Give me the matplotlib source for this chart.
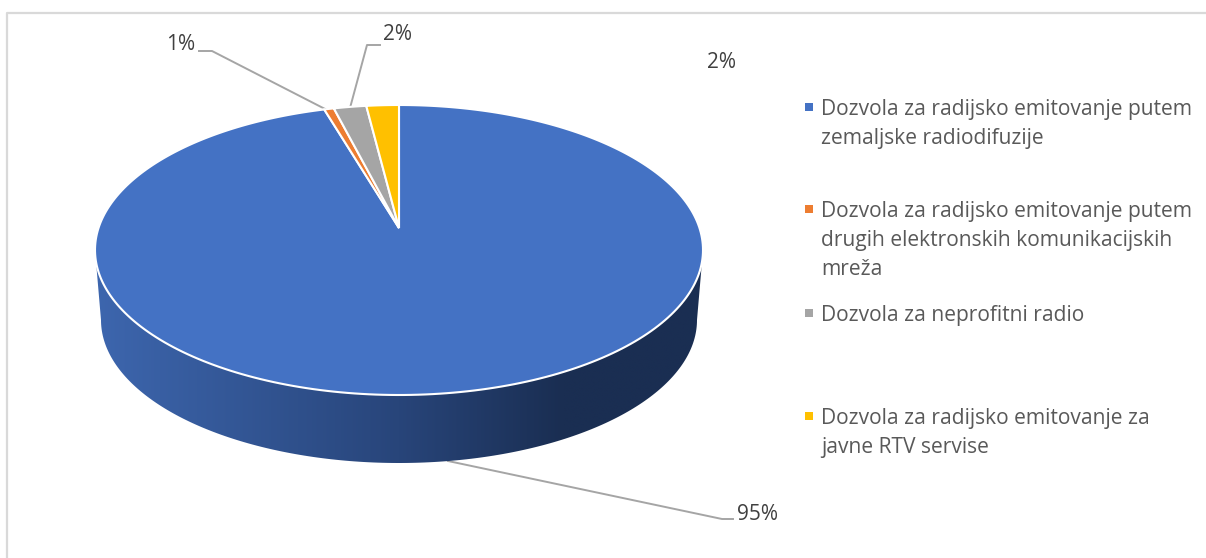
import numpy as np
import matplotlib
matplotlib.use('Agg')
import matplotlib.pyplot as plt
from matplotlib.colors import LinearSegmentedColormap
from matplotlib.patches import Polygon, Rectangle

plt.rcParams['font.family'] = ['Open Sans', 'DejaVu Sans']

categories = [
    'Dozvola za radijsko emitovanje putem\nzemaljske radiodifuzije',
    'Dozvola za radijsko emitovanje putem\ndrugih elektronskih komunikacijskih\nmreža',
    'Dozvola za neprofitni radio',
    'Dozvola za radijsko emitovanje za\njavne RTV servise',
]
values = [95.4, 0.6, 2.0, 2.0]
colors = ['#4472C4', '#ED7D31', '#A5A5A5', '#FFC000']

TEXT = '#595959'
LINE = '#A5A5A5'

# pie geometry in pixels (drawn in perspective like the excel 3d pie)
CX, CY = 399, 250
RX, RY = 304, 145
APEX = 22
DEPTH_CY, DEPTH_RX, DEPTH_RY = 320, 298, 143


def project(theta):
    """angle clockwise from 12 o'clock -> pixel on the top face"""
    k = APEX / RY
    u, v = np.sin(theta), np.cos(theta)
    d = 1 + k * v
    c = RX * np.sqrt(1 - k ** 2)
    return CX + c * u / d, CY - (RY * v + APEX) / d


fig = plt.figure(figsize=(12.06, 5.58), dpi=100)
ax = fig.add_axes([0, 0, 1, 1])
ax.set_xlim(0, 1206)
ax.set_ylim(558, 0)
ax.axis('off')

# chart frame
ax.plot([1206, 6.5, 6.5], [12.5, 12.5, 558], color='#D9D9D9', lw=1.6, zorder=1)

# side wall with the left to right shading
t = np.linspace(0, np.pi, 200)
wall_x = np.r_[CX + DEPTH_RX * np.cos(t), CX - RX * np.cos(t)]
wall_y = np.r_[DEPTH_CY + DEPTH_RY * np.sin(t), CY + RY * np.sin(t)]
wall = Polygon(np.c_[wall_x, wall_y], closed=True, fc='none', ec='none', transform=ax.transData)
ax.add_patch(wall)
cmap = LinearSegmentedColormap.from_list('wall', [(0, '#3D66AE'), (0.5, '#28457A'), (0.77, '#1A2E52'), (1, '#1A2E52')])
im = ax.imshow(np.linspace(0, 1, 256)[None, :], extent=[CX - RX, CX + RX, 470, 240], cmap=cmap,
               aspect='auto', zorder=2, interpolation='bilinear')
im.set_clip_path(wall)
ax.set_xlim(0, 1206)
ax.set_ylim(558, 0)

# top face, one wedge per value, clockwise from the top
edges = np.r_[0, np.cumsum(values)] / sum(values) * 2 * np.pi
apex_xy = (CX, CY - APEX)
for i, col in enumerate(colors):
    th = np.linspace(edges[i], edges[i + 1], 300)
    px, py = project(th)
    pts = np.r_[[apex_xy], np.c_[px, py]]
    ax.add_patch(Polygon(pts, closed=True, fc=col, ec='white', lw=1.5, joinstyle='miter', zorder=3))

# data labels with leader lines
labels = [f'{v:.0f}%' for v in values]
ax.plot([448, 722, 733], [461, 519, 519], color=LINE, lw=1.4, zorder=1.5)
ax.plot([199, 212, 327], [51, 51, 110], color=LINE, lw=1.4, zorder=2.5)
ax.plot([380, 367, 350], [45, 45, 108], color=LINE, lw=1.4, zorder=2.5)
label_pos = [(757, 515), (181, 45), (398, 34), (721, 62)]
for s, (lx, ly) in zip(labels, label_pos):
    ax.text(lx, ly, s, ha='center', va='center', fontsize=15, color='#404040')

# legend
legend_y = [107, 209, 313, 416]
for name, col, ly in zip(categories, colors, legend_y):
    ax.add_patch(Rectangle((805, ly - 4), 8, 8, fc=col, ec='none', zorder=3))
    ax.text(821, ly - 8, name, ha='left', va='top', fontsize=15.1, color=TEXT, linespacing=1.5)

fig.savefig('out.png', dpi=100)
